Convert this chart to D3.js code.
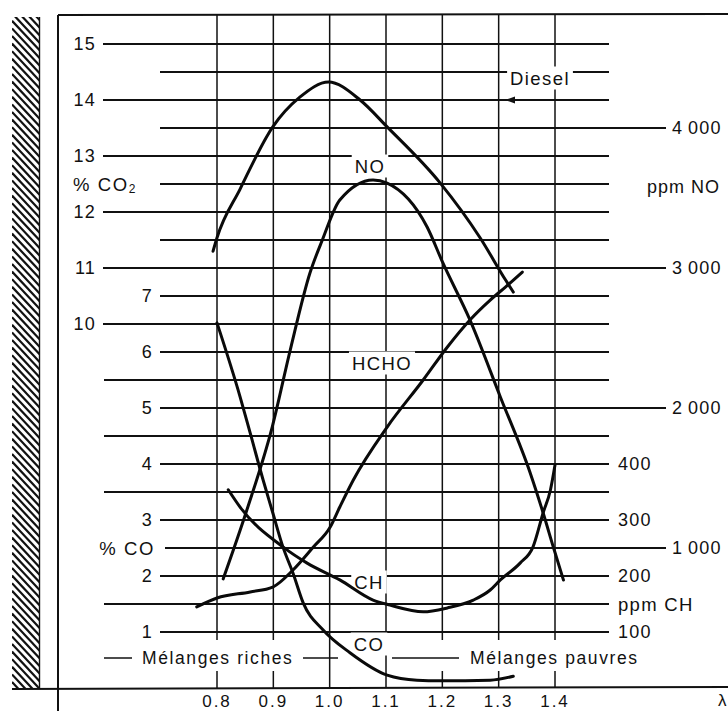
<!DOCTYPE html>
<html>
<head>
<meta charset="utf-8">
<script src="https://cdn.jsdelivr.net/npm/d3@7"></script>
<style>
  body { margin: 0; background: #fff; }
  svg { display: block; }
  text { font-family: "Liberation Sans", Arial, Helvetica, sans-serif; fill: #111; }
</style>
</head>
<body>
<svg id="chart"></svg>
<script>
// lambda (air ratio) ticks and the four left / right scales
const lambdaTicks = [0.8, 0.9, 1.0, 1.1, 1.2, 1.3, 1.4]
const co2Ticks = [15, 14, 13, 12, 11, 10]
const coTicks = [7, 6, 5, 4, 3, 2, 1]
const noTicks = [4000, 3000, 2000, 1000]
const noTickLabels = ['4\u2009000', '3\u2009000', '2\u2009000', '1\u2009000']
const chTicks = [400, 300, 200, 100]

// curves
const dieselLambda = [0.793, 0.800, 0.841, 0.899, 0.947, 0.998, 1.054, 1.102, 1.196, 1.267, 1.312, 1.326]
const dieselCO2 = [11.30, 11.54, 12.41, 13.52, 14.05, 14.32, 14.00, 13.52, 12.52, 11.54, 10.79, 10.57]

const noLambda = [0.811, 0.853, 0.898, 0.930, 0.965, 0.987, 1.018, 1.077, 1.102, 1.173, 1.201, 1.249, 1.303, 1.356, 1.379, 1.397, 1.415]
const noPpm = [779, 1271, 1864, 2414, 2964, 3200, 3486, 3629, 3607, 3293, 3036, 2629, 2079, 1536, 1250, 1007, 771]

const hchoLambda = [0.764, 0.800, 0.859, 0.899, 0.935, 0.971, 1.001, 1.018, 1.042, 1.102, 1.166, 1.209, 1.249, 1.285, 1.312, 1.342]
const hchoRel = [579, 643, 686, 721, 843, 1007, 1150, 1293, 1486, 1864, 2200, 2436, 2629, 2771, 2864, 2971]

const coLambda = [0.800, 0.841, 0.859, 0.882, 0.899, 0.917, 0.935, 0.953, 0.988, 1.036, 1.102, 1.155, 1.196, 1.285, 1.326]
const coPct = [6.52, 5.20, 4.55, 3.71, 3.13, 2.52, 2.05, 1.52, 1.04, 0.63, 0.23, 0.14, 0.13, 0.14, 0.21]

const chLambda = [0.820, 0.841, 0.917, 0.960, 1.018, 1.077, 1.107, 1.166, 1.209, 1.255, 1.285, 1.303, 1.338, 1.361, 1.379, 1.392, 1.400]
const chPpm = [354, 323, 252, 223, 193, 157, 148, 136, 143, 157, 175, 193, 223, 252, 313, 354, 398]

const width = 728
const height = 711

const svg = d3.select('#chart')
  .attr('width', width)
  .attr('height', height)

svg.append('rect').attr('width', width).attr('height', height).attr('fill', '#fff')

const x = d3.scaleLinear().domain([0.8, 1.4]).range([217, 555])
const yCO2 = d3.scaleLinear().domain([10, 15]).range([324, 44])
const yCO = d3.scaleLinear().domain([0, 7]).range([688, 296])
const yNO = d3.scaleLinear().domain([0, 4000]).range([688, 128])
const yCH = d3.scaleLinear().domain([0, 400]).range([688, 464])

// hatched wall on the left
const clip = svg.append('clipPath').attr('id', 'hatchClip')
clip.append('rect').attr('x', 12).attr('y', 17).attr('width', 27).attr('height', 671)
const hatch = svg.append('g').attr('clip-path', 'url(#hatchClip)')
hatch.selectAll('line')
  .data(d3.range(-40, 700, 7.6))
  .enter()
  .append('line')
  .attr('x1', 12).attr('y1', d => d)
  .attr('x2', 40).attr('y2', d => d + 30)
  .attr('stroke', '#111')
  .attr('stroke-width', 2.2)
svg.append('line')
  .attr('x1', 39.5).attr('y1', 17).attr('x2', 39.5).attr('y2', 688)
  .attr('stroke', '#111').attr('stroke-width', 1.4)

// frame
svg.append('line').attr('x1', 58).attr('y1', 15).attr('x2', 728).attr('y2', 14)
  .attr('stroke', '#111').attr('stroke-width', 2)
svg.append('line').attr('x1', 58).attr('y1', 15).attr('x2', 58).attr('y2', 711)
  .attr('stroke', '#111').attr('stroke-width', 2)
svg.append('line').attr('x1', 12).attr('y1', 689).attr('x2', 728).attr('y2', 687)
  .attr('stroke', '#111').attr('stroke-width', 2)

// horizontal grid: one line every half CO2 unit
const gridCO2 = d3.range(15, 4.4, -0.5)
function leftStart(v) {
  const co = yCO.invert(yCO2(v))
  if (Number.isInteger(v) && v >= 10) return 103
  if (Math.abs(co - 2.5) < 0.01) return 165
  if (v >= 11 || Math.abs(co - Math.round(co)) < 0.01) return 160
  return 104
}
function rightEnd(v) {
  const no = yNO.invert(yCO2(v))
  return Math.abs(no / 1000 - Math.round(no / 1000)) < 0.01 ? 666 : 609
}
const grid = svg.append('g')
grid.selectAll('.hline')
  .data(gridCO2)
  .enter()
  .append('line')
  .classed('hline', true)
  .attr('x1', d => leftStart(d))
  .attr('x2', d => rightEnd(d))
  .attr('y1', d => yCO2(d))
  .attr('y2', d => yCO2(d))
  .attr('stroke', '#111')
  .attr('stroke-width', 1.8)

// vertical grid
const gapless = [1.0, 1.1]
lambdaTicks.forEach(t => {
  if (gapless.includes(t)) {
    grid.append('line').attr('x1', x(t)).attr('x2', x(t)).attr('y1', 15).attr('y2', 688)
      .attr('stroke', '#111').attr('stroke-width', 1.5)
  } else {
    grid.append('line').attr('x1', x(t)).attr('x2', x(t)).attr('y1', 15).attr('y2', 640)
      .attr('stroke', '#111').attr('stroke-width', 1.5)
    grid.append('line').attr('x1', x(t)).attr('x2', x(t)).attr('y1', 671).attr('y2', 688)
      .attr('stroke', '#111').attr('stroke-width', 1.5)
  }
})

// mixture row
const mixY = 658
svg.append('line').attr('x1', 104).attr('x2', 132).attr('y1', mixY).attr('y2', mixY)
  .attr('stroke', '#111').attr('stroke-width', 1.5)
svg.append('line').attr('x1', 303).attr('x2', 338).attr('y1', mixY).attr('y2', mixY)
  .attr('stroke', '#111').attr('stroke-width', 1.5)
svg.append('line').attr('x1', 392).attr('x2', 459).attr('y1', mixY).attr('y2', mixY)
  .attr('stroke', '#111').attr('stroke-width', 1.5)

const txt = (s, px, py, anchor, size, spacing) => svg.append('text')
  .attr('x', px).attr('y', py)
  .attr('text-anchor', anchor || 'start')
  .attr('dominant-baseline', 'central')
  .style('font-size', (size || 17) + 'px')
  .style('letter-spacing', (spacing == null ? 1.2 : spacing) + 'px')
  .text(s)

txt('Mélanges riches', 142, mixY, 'start', 17.5, 1.6)
txt('Mélanges pauvres', 470, mixY, 'start', 17.5, 1.6)

// left scale labels
co2Ticks.forEach(t => txt(t, 96, yCO2(t), 'end', 18, 1.2))
coTicks.forEach(t => txt(t, 153, yCO(t), 'end', 18, 1.2))
const co2Label = txt('% CO', 73, yCO2(12.5), 'start', 18.5, 1.6)
co2Label.append('tspan').attr('dy', 5).style('font-size', '12px').text('2')
txt('% CO', 155, yCO(2.5), 'end', 18.5, 1.6)

// right scale labels
noTicks.forEach((t, i) => txt(noTickLabels[i], 672, yNO(t), 'start', 18, 1.2))
chTicks.forEach(t => txt(t, 618, yCH(t), 'start', 18, 1.2))
txt('ppm NO', 647, yNO(3600) + 3, 'start', 18, 1)
txt('ppm CH', 618, yCH(150), 'start', 18.5, 1.3)

// lambda tick labels (sit on the bottom edge of the page)
lambdaTicks.forEach(t => txt(t.toFixed(1), x(t), 707, 'middle', 17, 2)
  .attr('dominant-baseline', 'auto'))
txt('λ', 718, 706, 'start', 17, 0).attr('dominant-baseline', 'auto')

// curve labels on white boxes
const curveLabels = [
  {s: 'NO', px: 370, py: 166},
  {s: 'HCHO', px: 382, py: 363},
  {s: 'CH', px: 369, py: 582},
  {s: 'CO', px: 369, py: 644},
  {s: 'Diesel', px: 540, py: 78}
]
curveLabels.forEach(l => {
  const t = txt(l.s, l.px, l.py, 'middle', 18.5, 1.4)
  const b = t.node().getBBox()
  svg.insert('rect', () => t.node())
    .attr('x', b.x - 3).attr('y', b.y - 1)
    .attr('width', b.width + 6).attr('height', b.height + 2)
    .attr('fill', '#fff')
})

// Diesel arrow head
svg.append('path')
  .attr('d', d3.line()([[505, yCO2(14)], [515, yCO2(14) - 3.5], [515, yCO2(14) + 3.5]]) + 'Z')
  .attr('fill', '#111')

// curves
const curves = [
  {xs: dieselLambda, ys: dieselCO2, scale: yCO2},
  {xs: noLambda, ys: noPpm, scale: yNO},
  {xs: hchoLambda, ys: hchoRel, scale: yNO},
  {xs: coLambda, ys: coPct, scale: yCO},
  {xs: chLambda, ys: chPpm, scale: yCH}
]
const curveG = svg.append('g')
curves.forEach(c => {
  const line = d3.line()
    .x(d => x(d[0]))
    .y(d => c.scale(d[1]))
    .curve(d3.curveMonotoneX)
  curveG.append('path')
    .datum(c.xs.map((v, i) => [v, c.ys[i]]))
    .attr('d', line)
    .attr('fill', 'none')
    .attr('stroke', '#0a0a0a')
    .attr('stroke-width', 3)
    .attr('stroke-linecap', 'round')
    .attr('stroke-linejoin', 'round')
})
</script>
</body>
</html>
